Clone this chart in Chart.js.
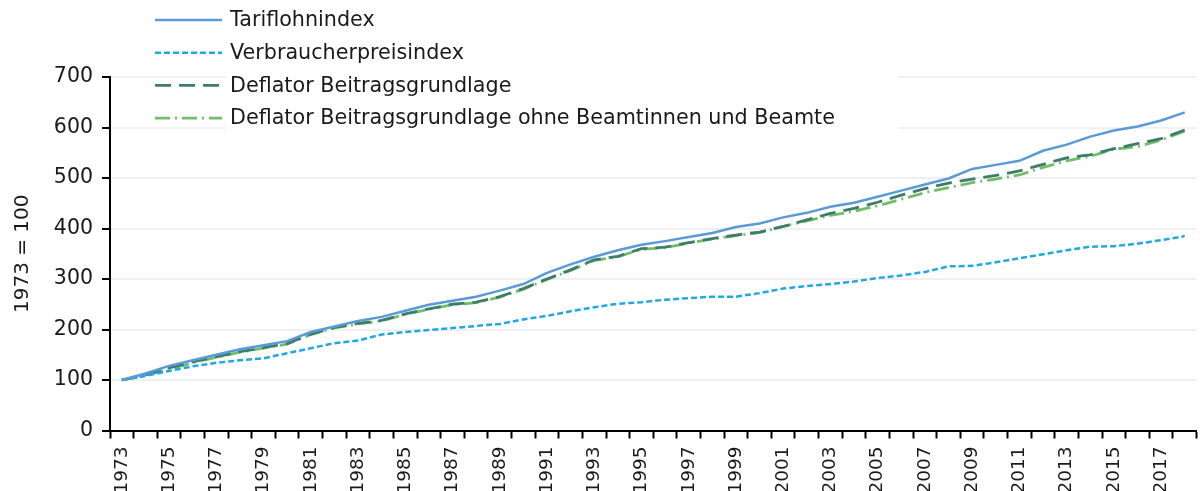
<!DOCTYPE html>
<html>
<head>
<meta charset="utf-8">
<script src="https://cdn.jsdelivr.net/npm/chart.js@4.4.1/dist/chart.umd.min.js"></script>
<style>
    html, body { margin: 0; padding: 0; background: #fff; overflow: hidden; }
    #wrap { width: 1215px; height: 491px; }
</style>
</head>
<body>
<div id="wrap"><canvas id="indexChart" width="1215" height="491"></canvas></div>
<script>
const years = ['1973','1974','1975','1976','1977','1978','1979','1980','1981','1982',
    '1983','1984','1985','1986','1987','1988','1989','1990','1991','1992',
    '1993','1994','1995','1996','1997','1998','1999','2000','2001','2002',
    '2003','2004','2005','2006','2007','2008','2009','2010','2011','2012',
    '2013','2014','2015','2016','2017','2018'];

const tariflohnindex = [100, 113, 128, 139, 150, 161, 169, 177, 195, 206,
    217, 225, 237, 249, 257, 265, 277, 290, 312, 329,
    344, 357, 368, 375, 383, 391, 403, 410, 422, 431,
    443, 451, 463, 475, 487, 499, 518, 526, 534, 554,
    566, 582, 594, 602, 614, 630];

const verbraucherpreisindex = [100, 108, 118, 127, 134, 139, 143, 153, 163, 173,
    178, 190, 195, 199, 203, 207, 211, 220, 227, 236,
    244, 251, 254, 259, 262, 265, 265, 272, 281, 286,
    290, 295, 302, 307, 314, 325, 326, 333, 341, 349,
    357, 364, 365, 370, 377, 385];

const deflatorBeitrag = [100, 110, 124, 136, 146, 156, 164, 172, 191, 204,
    212, 218, 231, 241, 250, 254, 265, 281, 300, 318,
    338, 345, 360, 363, 372, 380, 387, 393, 404, 417,
    430, 440, 452, 466, 479, 490, 498, 505, 514, 527,
    540, 546, 558, 568, 578, 595];

const deflatorOhneBeamte = [100, 109, 122, 134, 145, 155, 163, 171, 190, 203,
    211, 217, 230, 240, 249, 253, 264, 280, 299, 317,
    337, 344, 359, 362, 371, 379, 386, 392, 404, 415,
    426, 434, 445, 458, 471, 481, 491, 498, 506, 521,
    534, 543, 557, 562, 575, 593];

const yTicks = [0, 100, 200, 300, 400, 500, 600, 700];

const FONT = "'DejaVu Sans', sans-serif";

// Legende oben links, Textbereich mit weißem Hintergrund
const boxLegend = {
    id: 'boxLegend',
    afterDraw(chart) {
        const ctx = chart.ctx;
        ctx.save();
        ctx.fillStyle = '#fff';
        ctx.fillRect(226, 0, 672, 136);
        chart.data.datasets.forEach((ds, i) => {
            const y = 20 + i * 32.7;
            ctx.strokeStyle = ds.borderColor;
            ctx.lineWidth = ds.borderWidth;
            ctx.setLineDash(ds.borderDash || []);
            ctx.beginPath();
            ctx.moveTo(155, y);
            ctx.lineTo(222, y);
            ctx.stroke();
            ctx.setLineDash([]);
            ctx.fillStyle = '#1a1a1a';
            ctx.font = '20.7px ' + FONT;
            ctx.textBaseline = 'middle';
            ctx.fillText(ds.label, 230, y + 1);
        });
        ctx.restore();
    }
};

const ctx = document.getElementById('indexChart').getContext('2d');

new Chart(ctx, {
    type: 'line',
    data: {
        labels: years,
        datasets: [{
            label: 'Tariflohnindex',
            data: tariflohnindex,
            borderColor: '#5a9ad8',
            borderWidth: 2.5,
        }, {
            label: 'Verbraucherpreisindex',
            data: verbraucherpreisindex,
            borderColor: '#22a7e6',
            borderWidth: 2.5,
            borderDash: [6, 3],
        }, {
            label: 'Deflator Beitragsgrundlage',
            data: deflatorBeitrag,
            borderColor: '#3e7d6b',
            borderWidth: 2.8,
            borderDash: [16, 8],
        }, {
            label: 'Deflator Beitragsgrundlage ohne Beamtinnen und Beamte',
            data: deflatorOhneBeamte,
            borderColor: '#70bf68',
            borderWidth: 2.8,
            borderDash: [15, 5, 2, 5],
        }],
    },
    options: {
        responsive: false,
        animation: false,
        layout: { padding: { top: 77, right: 6, left: 0, bottom: 0 } },
        elements: { point: { radius: 0 }, line: { tension: 0 } },
        plugins: {
            legend: { display: false },
            tooltip: { enabled: false },
        },
        scales: {
            x: {
                offset: true,
                grid: {
                    offset: true,
                    drawOnChartArea: false,
                    drawTicks: true,
                    tickLength: 8,
                    tickColor: '#000',
                    tickWidth: 2,
                },
                border: { color: '#000', width: 2 },
                ticks: {
                    autoSkip: false,
                    minRotation: 90,
                    maxRotation: 90,
                    padding: 8,
                    color: '#1a1a1a',
                    font: { family: FONT, size: 18.5 },
                    callback: (v, i) => (i % 2 === 0 ? years[i] : ''),
                },
                afterFit: (scale) => { scale.height = 60.5; },
            },
            y: {
                min: 0,
                max: 700,
                afterBuildTicks: (scale) => { scale.ticks = yTicks.map(v => ({ value: v })); },
                grid: {
                    color: '#efefef',
                    lineWidth: 2,
                    tickLength: 8,
                    tickColor: '#000',
                    tickWidth: 2,
                },
                border: { color: '#000', width: 2 },
                ticks: {
                    color: '#1a1a1a',
                    padding: 9,
                    font: { family: FONT, size: 20.5 },
                },
                title: {
                    display: true,
                    text: '1973 = 100',
                    color: '#1a1a1a',
                    font: { family: FONT, size: 20 },
                    padding: { top: 11, bottom: 0 },
                },
                afterFit: (scale) => { scale.width = 110; },
            },
        },
    },
    plugins: [boxLegend],
});
</script>
</body>
</html>
